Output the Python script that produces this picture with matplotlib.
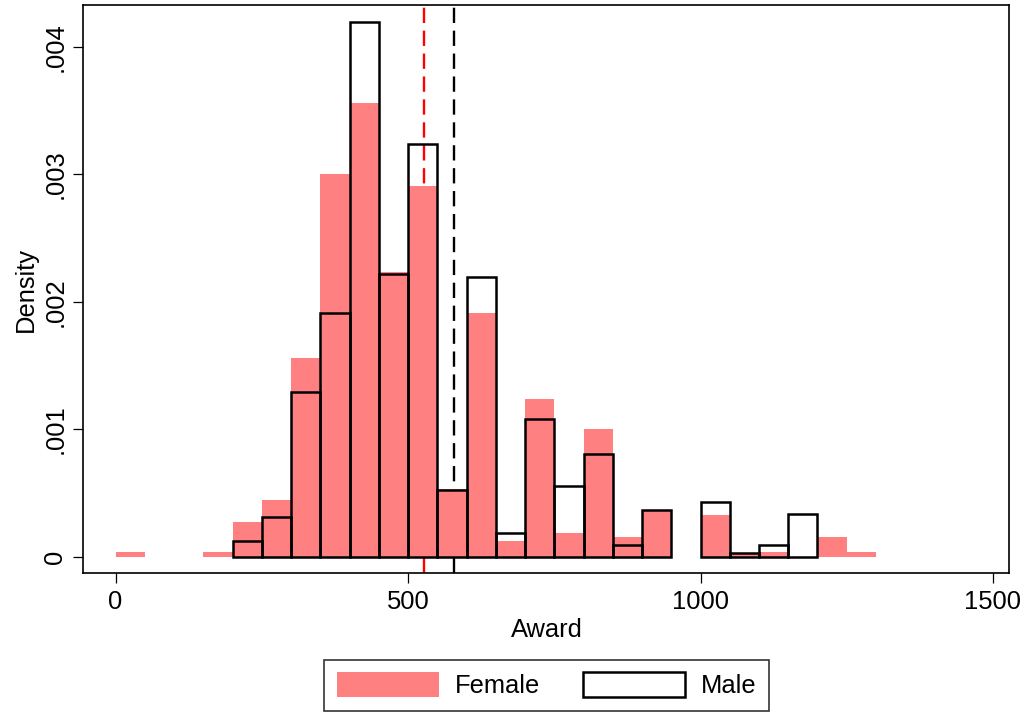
import matplotlib
matplotlib.use("Agg")
import matplotlib.pyplot as plt
import numpy as np

plt.rcParams['font.family'] = ['Liberation Sans', 'DejaVu Sans']

# ---- data ----
bin_width = 50
female_left = list(range(0, 1300, 50))
female_density = [0.000034, 0, 0, 0.000034, 0.00027, 0.000445, 0.00156, 0.0030,
                  0.003556, 0.002235, 0.00291, 0.000533, 0.001914, 0.000125,
                  0.00124, 0.000183, 0.001, 0.000152, 0.000368, 0, 0.00033,
                  0.000027, 0.00004, 0, 0.000152, 0.000034]
male_left = list(range(200, 1200, 50))
male_density = [0.000123, 0.000309, 0.001294, 0.001914, 0.004193, 0.00222,
                0.003237, 0.000523, 0.002191, 0.000183, 0.001078, 0.000554,
                0.000803, 0.000092, 0.000368, 0, 0.000431, 0.000027, 0.000092,
                0.000335]
female_mean = 527
male_mean = 578
x_ticks = [0, 500, 1000, 1500]
y_ticks = [0, 0.001, 0.002, 0.003, 0.004]
y_ticklabels = ["0", ".001", ".002", ".003", ".004"]

FS = 18.4
fig = plt.figure(figsize=(10.29, 7.12), dpi=100)
ax = fig.add_axes([0.0811, 0.1948, 0.9809 - 0.0811, 0.9933 - 0.1948])

lw_dash = 1.7
dash = (0, (11.0 / lw_dash, 5.5 / lw_dash))
ax.axvline(female_mean, color='#ff0000', lw=lw_dash, linestyle=dash, zorder=1)
ax.axvline(male_mean, color='black', lw=lw_dash, linestyle=dash, zorder=1)

fl = [l for l, h in zip(female_left, female_density) if h > 0]
fh = [h for h in female_density if h > 0]
fbars = ax.bar(fl, fh, width=bin_width, align='edge', color='#ff8080', linewidth=0, zorder=2, label='Female')

ml = [l for l, h in zip(male_left, male_density) if h > 0]
mh = [h for h in male_density if h > 0]
mbars = ax.bar(ml, mh, width=bin_width, align='edge', fill=False, edgecolor='black', linewidth=1.8, zorder=3, label='Male')

ax.set_xlim(-55, 1528)
ax.set_ylim(-0.000130, 0.004329)
ax.set_xticks(x_ticks)
ax.set_xticklabels([str(v) for v in x_ticks])
ax.set_yticks(y_ticks)
ax.set_yticklabels(y_ticklabels, rotation=90, va='center')
ax.tick_params(axis='both', labelsize=FS, length=7.2, width=0.9, direction='out')
ax.tick_params(axis='x', pad=5.0)
ax.tick_params(axis='y', pad=4.5)
for s in ax.spines.values():
    s.set_linewidth(1.2)
ax.set_xlabel('Award', fontsize=FS, labelpad=3)
ax.set_ylabel('Density', fontsize=FS, labelpad=4)

leg = fig.legend(handles=[fbars, mbars], labels=['Female', 'Male'], ncol=2,
                 loc='center', bbox_to_anchor=(0.5312, 0.0374),
                 fontsize=FS, frameon=True, fancybox=False, edgecolor='black',
                 handlelength=3.98, handleheight=1.1, handletextpad=0.63,
                 columnspacing=1.68, borderpad=0.5, borderaxespad=0)
leg.get_frame().set_linewidth(1.2)

fig.savefig('out.png', dpi=100)
